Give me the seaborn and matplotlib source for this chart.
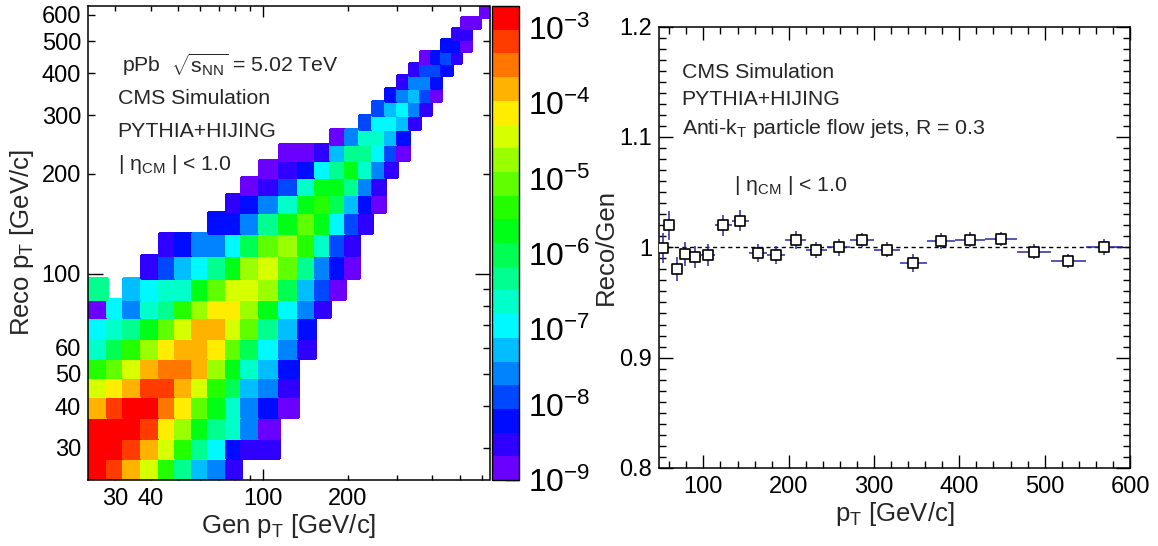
import colorsys
import numpy as np
import pandas as pd
import matplotlib
matplotlib.use("Agg")
import matplotlib.pyplot as plt
from matplotlib.colors import ListedColormap, LogNorm
from matplotlib.ticker import FixedLocator, FuncFormatter, MultipleLocator, LogLocator
import seaborn as sns

# ---------------- data ----------------
# jet pT binning (GeV/c), shared by gen and reco axes
pt_bin_edges = [24, 28, 32, 37, 43, 49, 56, 64, 74, 84, 97, 114, 133, 153, 174,
                196, 220, 245, 272, 300, 330, 362, 395, 430, 468, 507, 548, 592, 638]

# response matrix: for every reco bin (bottom -> top) the first filled gen bin
# and the log10 of the yield in the consecutive gen bins (None = empty)
first_gen_bin = [0, 0, 0, 0, 0, 0, 0, 0, 0, 0, 3, 4, 7, 8, 9, 10, 11, 14, 16, 17,
                 18, 19, 20, 21, 23, 24, 25, 27]
log10_yield = [
    [-2.87, -3.18, -3.81, -4.44, -5.38, -6.33, -7.27, -7.58, -8.53],
    [-2.87, -2.87, -3.18, -3.81, -4.44, -5.38, -6.33, -6.96, -8.21, -8.53, -8.53],
    [-2.87, -2.87, -2.87, -3.18, -4.13, -4.75, -5.70, -6.33, -6.64, -7.58, -8.84],
    [-3.81, -3.18, -2.87, -2.87, -3.50, -4.13, -5.07, -5.70, -6.64, -7.58, -8.21, -8.84],
    [-4.44, -4.13, -3.81, -3.18, -3.18, -3.81, -4.44, -5.38, -6.01, -7.27, -7.58, -8.53],
    [-5.38, -5.07, -4.44, -3.81, -3.50, -3.50, -3.81, -4.75, -5.70, -6.64, -7.27, -8.21],
    [-6.64, -6.01, -5.38, -4.75, -4.13, -3.81, -3.81, -4.13, -5.07, -6.01, -6.96, -7.58, -8.53],
    [-6.96, -6.64, -6.33, -5.70, -5.07, -4.44, -3.81, -3.81, -4.44, -5.07, -6.33, -7.27, -8.21],
    [-8.84, -6.96, -7.58, -6.64, -6.33, -5.38, -4.75, -4.13, -4.13, -4.75, -5.70, -6.96, -7.58, -8.53],
    [-6.33, None, -7.27, -6.96, -6.64, -6.64, -5.70, -5.07, -4.44, -4.44, -4.75, -6.01, -7.27, -7.90, -8.84],
    [-8.53, -7.90, -7.27, -6.96, -6.33, -5.70, -4.75, -4.44, -5.07, -6.33, -7.58, -8.21, -8.84],
    [-8.53, -8.21, -7.58, -7.58, -6.96, -6.01, -5.07, -4.75, -5.38, -6.64, -7.90, -8.53],
    [-8.21, -8.21, -7.58, -6.33, -5.70, -5.07, -5.70, -6.96, -7.90, -8.53],
    [-8.53, -8.21, -7.58, -6.64, -5.70, -5.38, -6.01, -7.27, -8.21, -8.84],
    [-8.84, -8.53, -7.90, -6.64, -5.70, -5.70, -6.33, -7.58, -8.53],
    [-8.84, -8.53, -8.21, -6.96, -6.33, -5.70, -6.64, -7.58, -8.53],
    [-8.84, -8.84, -8.53, -7.27, -6.33, -6.33, -6.96, -7.90, -8.84],
    [-8.84, -7.58, -6.64, -6.64, -7.27, -8.21],
    [-7.90, -6.96, -6.96, -7.27, -8.53],
    [-7.90, -7.27, -6.96, -7.58, -8.53],
    [-8.21, -7.58, -7.27, -7.90, -8.84],
    [-8.53, -7.58, -7.58, -8.21],
    [-8.53, -7.90, -7.90, -8.21],
    [-8.84, -8.21, -7.90, -8.53],
    [-8.21, -8.21, -8.84],
    [-8.53, -8.53],
    [-8.84, -8.84],
    [-8.84],
]

# Reco/Gen ratio
ratio_bin_edges = [49, 56, 64, 74, 84, 97, 114, 133, 153, 174, 196, 220, 245, 272,
                   300, 330, 362, 395, 430, 468, 507, 548, 592]
ratio_values = [0.999, 1.020, 0.980, 0.994, 0.991, 0.993, 1.020, 1.024, 0.995, 0.993,
                1.0066, 0.9976, 1.000, 1.0066, 0.998, 0.986, 1.0054, 1.0069, 1.0078,
                0.996, 0.9876, 1.000]
ratio_errors = [0.0136, 0.013, 0.011, 0.011, 0.010, 0.010, 0.0095, 0.0095, 0.0083,
                0.0079, 0.0083, 0.0076, 0.0076, 0.0063, 0.0068, 0.0083, 0.0073,
                0.0068, 0.0065, 0.0068, 0.0065, 0.0073]

# ---------------- style ----------------
sns.set_theme(style="ticks")
plt.rcParams["font.family"] = ["Liberation Sans", "DejaVu Sans"]
plt.rcParams["mathtext.fontset"] = "custom"
plt.rcParams["mathtext.rm"] = "Liberation Sans"
plt.rcParams["mathtext.it"] = "Liberation Sans:italic"
plt.rcParams["mathtext.bf"] = "Liberation Sans:bold"
plt.rcParams["mathtext.sf"] = "Liberation Sans"
plt.rcParams["mathtext.default"] = "regular"
plt.rcParams["axes.linewidth"] = 1.1
plt.rcParams["axes.edgecolor"] = "black"
plt.rcParams["xtick.color"] = "black"
plt.rcParams["ytick.color"] = "black"

W, H = 1158, 546
fig = plt.figure(figsize=(W / 100, H / 100), dpi=100)

def px_axes(x0, y0, x1, y1):
    return fig.add_axes([x0 / W, 1 - y1 / H, (x1 - x0) / W, (y1 - y0) / H])

ax = px_axes(88, 6, 489.5, 480)
cax = px_axes(491.5, 6, 518.5, 480)
ax2 = px_axes(659, 26.7, 1130, 467.9)

# ROOT-like rainbow palette, 20 levels
n_levels = 20
palette = [colorsys.hls_to_rgb((265 - 265 * i / (n_levels - 1)) / 360.0, 0.5, 1.0)
           for i in range(n_levels)]
cmap = ListedColormap(palette)
norm = LogNorm(vmin=1e-9, vmax=10 ** (-9 + 6.29))

# ---------------- left: response matrix ----------------
edges = np.array(pt_bin_edges, dtype=float)
centers = np.sqrt(edges[:-1] * edges[1:])
records = []
for r, (c0, vals) in enumerate(zip(first_gen_bin, log10_yield)):
    for k, v in enumerate(vals):
        if v is None:
            continue
        records.append((centers[c0 + k], centers[r], 10.0 ** v))
resp = pd.DataFrame(records, columns=["gen", "reco", "w"])

log_edges = np.log10(edges)
sns.histplot(data=resp, x="gen", y="reco", weights="w",
             bins=(log_edges, log_edges), log_scale=(True, True),
             cmap=cmap, cbar=False, ax=ax)
mesh = ax.collections[-1]
mesh.set_norm(norm)
mesh.set_cmap(cmap)
mesh.set_edgecolor("face")

ax.set_xlim(24, 638)
ax.set_ylim(24, 638)

x_lab = {30: "30", 40: "40", 200: "200"}
y_lab = {30: "30", 40: "40", 50: "50", 60: "60", 200: "200", 300: "300",
         400: "400", 500: "500", 600: "600"}
minor_vals = [30, 40, 50, 60, 70, 80, 90, 200, 300, 400, 500, 600]
for axis, labs in ((ax.xaxis, x_lab), (ax.yaxis, y_lab)):
    axis.set_major_locator(FixedLocator([100]))
    axis.set_major_formatter(FuncFormatter(lambda v, p: "100"))
    axis.set_minor_locator(FixedLocator(minor_vals))
    axis.set_minor_formatter(FuncFormatter(
        lambda v, p, labs=labs: labs.get(int(round(v)), "")))

ax.tick_params(which="both", direction="in", top=True, right=True,
               labelsize=17, width=1)
ax.xaxis.set_tick_params(which="major", length=8, pad=6)
ax.xaxis.set_tick_params(which="minor", length=3.8, pad=6)
ax.yaxis.set_tick_params(which="major", length=11, pad=5)
ax.yaxis.set_tick_params(which="minor", length=5, pad=5)
ax.set_xlabel("Gen p$_{\\mathrm{T}}$ [GeV/c]", fontsize=18.5, labelpad=1)
ax.set_ylabel("Reco p$_{\\mathrm{T}}$ [GeV/c]", fontsize=18.5, labelpad=4)

tx = dict(fontsize=15.3, ha="left", va="center", transform=ax.transAxes)
ax.text(0.085, 0.876, "pPb  $\\sqrt{\\mathrm{s}_{\\mathrm{NN}}}$ = 5.02 TeV", **tx)
ax.text(0.074, 0.804, "CMS Simulation", **tx)
ax.text(0.074, 0.735, "PYTHIA+HIJING", **tx)
ax.text(0.074, 0.665, "| η$_{\\mathrm{CM}}$ | < 1.0", **tx)

# colour bar
cb = fig.colorbar(mesh, cax=cax)
cb.outline.set_linewidth(1.0)
cax.yaxis.set_ticks_position("right")
cax.yaxis.set_major_locator(LogLocator(base=10))
cax.yaxis.set_minor_locator(LogLocator(base=10, subs=np.arange(2, 10)))
cax.tick_params(which="major", direction="in", length=10, width=1,
                labelsize=23, pad=7)
cax.tick_params(which="minor", direction="in", length=5, width=1)

# ---------------- right: Reco/Gen ratio ----------------
redges = np.array(ratio_bin_edges, dtype=float)
ratio = pd.DataFrame({
    "pt": 0.5 * (redges[:-1] + redges[1:]),
    "half": 0.5 * (redges[1:] - redges[:-1]),
    "ratio": ratio_values,
    "err": ratio_errors,
})
ax2.axhline(1.0, color="black", lw=1.0, ls=(0, (3, 2.5)), zorder=1)
ax2.errorbar(ratio["pt"], ratio["ratio"], xerr=ratio["half"], yerr=ratio["err"],
             fmt="none", ecolor="#2a2aa0", elinewidth=1.1, capsize=0, zorder=2)
sns.scatterplot(data=ratio, x="pt", y="ratio", marker="s", s=42, color="white",
                edgecolor="black", linewidth=1.2, ax=ax2, zorder=3, legend=False)

ax2.set_xlim(48, 600)
ax2.set_ylim(0.8, 1.2)
ax2.xaxis.set_major_locator(MultipleLocator(100))
ax2.xaxis.set_minor_locator(MultipleLocator(20))
ax2.yaxis.set_major_locator(MultipleLocator(0.1))
ax2.yaxis.set_minor_locator(MultipleLocator(0.01))
ax2.yaxis.set_major_formatter(FuncFormatter(
    lambda v, p: "1" if abs(v - 1) < 1e-6 else f"{v:.1f}"))
ax2.xaxis.set_major_formatter(FuncFormatter(lambda v, p: f"{v:.0f}"))
ax2.tick_params(which="both", direction="in", top=True, right=True,
                labelsize=17, width=1)
ax2.xaxis.set_tick_params(which="major", length=9.5, pad=6)
ax2.xaxis.set_tick_params(which="minor", length=4.7, pad=6)
ax2.yaxis.set_tick_params(which="major", length=10, pad=5)
ax2.yaxis.set_tick_params(which="minor", length=5, pad=5)
ax2.set_xlabel("p$_{\\mathrm{T}}$ [GeV/c]", fontsize=18.5, labelpad=1)
ax2.set_ylabel("Reco/Gen", fontsize=18.5, labelpad=1)

tx2 = dict(fontsize=15.3, ha="left", va="center", transform=ax2.transAxes)
ax2.text(0.048, 0.897, "CMS Simulation", **tx2)
ax2.text(0.048, 0.834, "PYTHIA+HIJING", **tx2)
ax2.text(0.048, 0.770, "Anti-k$_{\\mathrm{T}}$ particle flow jets, R = 0.3", **tx2)
ax2.text(0.16, 0.64, "| η$_{\\mathrm{CM}}$ | < 1.0", **tx2)

fig.savefig("out.png", dpi=100)
